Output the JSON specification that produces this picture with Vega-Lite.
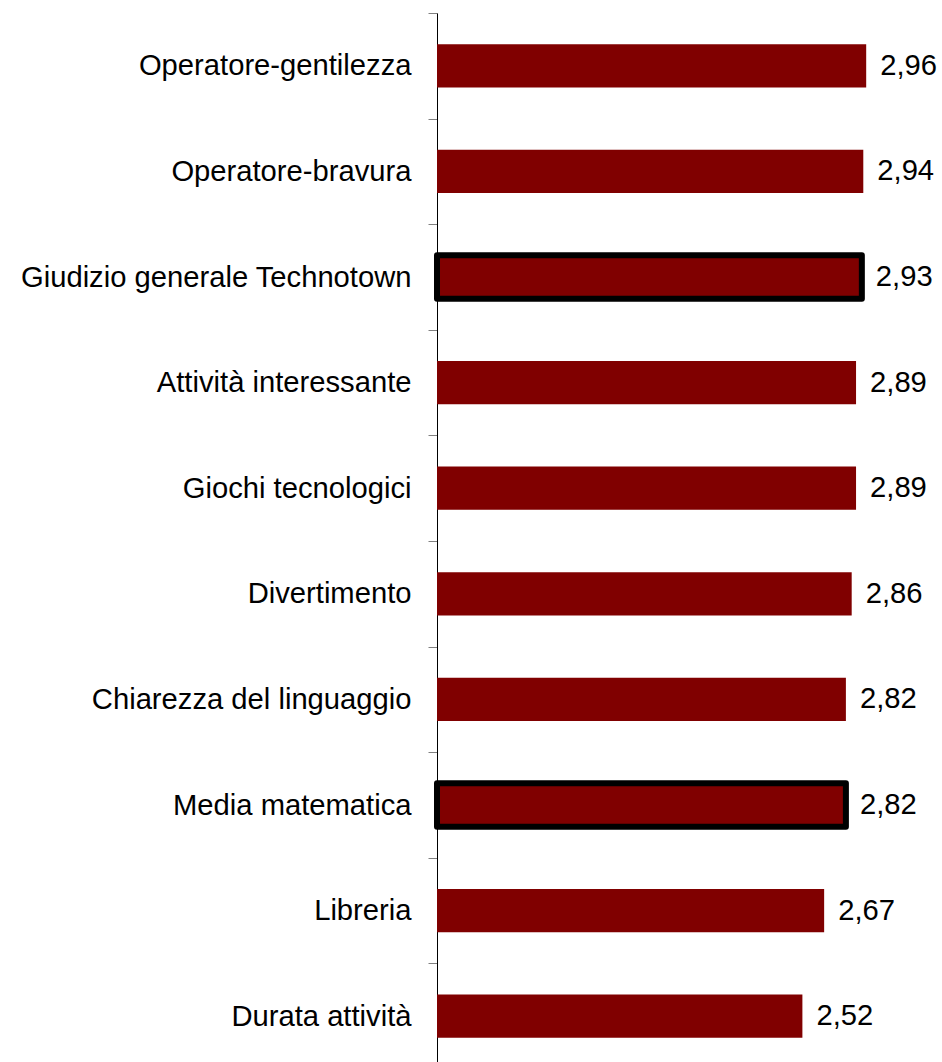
{
  "$schema": "https://vega.github.io/schema/vega-lite/v6.json",
  "autosize": "none",
  "width": 505,
  "height": 1049,
  "padding": {"left": 437, "top": 13, "right": 0, "bottom": 0},
  "background": "white",
  "data": {
    "values": [
      {"cat": "Operatore-gentilezza", "v": 2.96, "hl": false},
      {"cat": "Operatore-bravura", "v": 2.94, "hl": false},
      {"cat": "Giudizio generale Technotown", "v": 2.93, "hl": true},
      {"cat": "Attività interessante", "v": 2.89, "hl": false},
      {"cat": "Giochi tecnologici", "v": 2.89, "hl": false},
      {"cat": "Divertimento", "v": 2.86, "hl": false},
      {"cat": "Chiarezza del linguaggio", "v": 2.82, "hl": false},
      {"cat": "Media matematica", "v": 2.82, "hl": true},
      {"cat": "Libreria", "v": 2.67, "hl": false},
      {"cat": "Durata attività", "v": 2.52, "hl": false}
    ]
  },
  "encoding": {
    "y": {
      "field": "cat",
      "type": "nominal",
      "sort": null,
      "scale": {"range": [0, 1056], "paddingInner": 0.59, "paddingOuter": 0.295},
      "axis": {
        "title": null,
        "domain": true,
        "domainColor": "black",
        "domainWidth": 1,
        "ticks": true,
        "tickColor": "#808080",
        "tickSize": 9,
        "tickWidth": 1,
        "tickBand": "center",
        "tickOffset": -52.8,
        "labelOffset": 52.8,
        "labelFont": "Liberation Sans",
        "labelFontSize": 29.2,
        "labelColor": "black",
        "labelPadding": 17,
        "labelLimit": 600
      }
    },
    "x": {
      "field": "v",
      "type": "quantitative",
      "scale": {"domain": [0, 3.4828], "nice": false, "zero": true},
      "axis": null
    }
  },
  "layer": [
    {
      "mark": {"type": "bar", "fill": "#800000", "stroke": "black", "strokeJoin": "round"},
      "encoding": {
        "strokeWidth": {"condition": {"test": "datum.hl", "value": 6}, "value": 0}
      }
    },
    {
      "mark": {"type": "text", "align": "left", "baseline": "middle", "dx": 14, "font": "Liberation Sans", "fontSize": 29.2, "color": "black"},
      "encoding": {
        "text": {"field": "v", "type": "quantitative", "format": ".2f"}
      }
    }
  ],
  "config": {
    "view": {"stroke": null},
    "locale": {"number": {"decimal": ",", "thousands": ".", "grouping": [3], "currency": ["", " €"]}}
  }
}
